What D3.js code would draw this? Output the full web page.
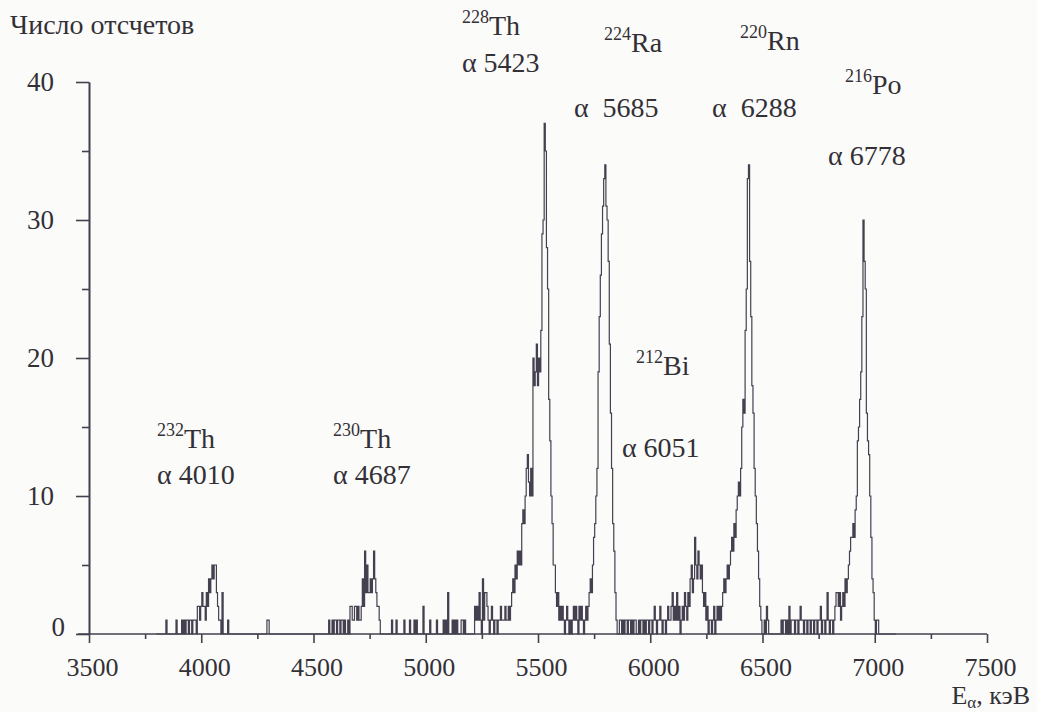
<!DOCTYPE html>
<html>
<head>
<meta charset="utf-8">
<script src="https://cdn.jsdelivr.net/npm/d3@7"></script>
<style>
    body { margin: 0; background: #fbfbfa; }
    svg text { font-family: 'Liberation Serif', 'Noto Serif', 'DejaVu Serif', 'Times New Roman', Times, serif; fill: #333036; }
</style>
</head>
<body>
<div id="visualization"></div>
<script>
// spectrum: counts per 5 keV channel, first channel at 3800 keV, one row = 100 keV
var channelStart = 3800
var channelWidth = 5
var counts = [
    0,0,0,0,0,0,0,0,0,1, 0,0,0,0,0,0,0,0,1,0,        // 3800
    0,0,0,1,0,1,0,1,1,0, 1,1,0,1,1,1,0,2,2,1,        // 3900
    2,3,2,2,1,3,2,4,3,4, 5,4,5,5,3,2,1,1,0,3,        // 4000
    0,0,0,0,1,0,0,0,0,0, 0,0,0,0,0,0,0,0,0,0,        // 4100
    0,0,0,0,0,0,0,0,0,0, 0,0,0,0,0,0,0,0,0,1,        // 4200
    1,0,0,0,0,0,0,0,0,0, 0,0,0,0,0,0,0,0,0,0,        // 4300
    0,0,0,0,0,0,0,0,0,0, 0,0,0,0,0,0,0,0,0,0,        // 4400
    0,0,0,0,0,0,0,0,0,0, 0,0,0,0,1,0,0,1,0,1,        // 4500
    1,0,1,1,0,1,1,0,1,0, 0,1,0,2,2,1,1,2,2,1,        // 4600
    2,1,1,2,4,2,6,3,5,3, 3,4,3,4,6,4,3,2,2,1,        // 4700
    0,0,0,0,0,0,0,0,0,0, 1,0,0,0,1,0,0,0,0,0,        // 4800
    0,1,0,0,0,0,1,0,0,0, 1,0,1,0,0,0,0,0,2,0,        // 4900
    0,0,0,0,1,0,0,0,0,0, 1,0,0,0,0,0,1,0,1,0,        // 5000
    3,0,0,0,1,0,1,0,1,0, 0,0,1,1,0,1,0,0,0,0,        // 5100
    0,0,0,0,2,1,2,1,3,1, 0,4,1,3,3,2,1,0,1,2,        // 5200
    1,0,1,1,0,1,1,2,1,1, 1,2,1,1,2,1,2,3,4,3,        // 5300
    5,4,6,5,6,5,8,9,8,10, 12,13,11,10,12,10,20,18,19,21,     // 5400
    18,20,19,22,29,30,37,35,28,25, 17,14,10,8,5,5,3,2,3,1,   // 5500
    2,1,2,1,0,1,2,1,0,1, 0,1,2,1,2,1,0,2,1,2,        // 5600
    1,0,1,2,1,2,3,4,3,5, 7,8,10,12,19,23,26,29,31,33,        // 5700
    34,31,30,27,21,16,12,8,6,3, 1,0,0,1,1,0,1,0,1,1,         // 5800
    0,1,1,0,1,0,1,1,0,0, 1,0,1,1,0,1,0,1,1,0,        // 5900
    1,1,0,1,2,1,0,1,1,2, 1,0,1,1,0,1,2,1,1,2,        // 6000
    3,1,2,1,3,1,2,0,1,2, 1,3,2,1,3,2,4,5,3,4,        // 6100
    7,5,4,6,5,4,5,3,2,3, 1,2,0,1,1,0,1,2,0,1,        // 6200
    2,1,2,1,2,3,4,3,4,5, 4,5,6,7,6,8,7,9,10,11,      // 6300
    10,12,15,17,16,22,25,33,34,27, 23,18,16,12,10,8,6,4,2,1, // 6400
    0,0,1,0,2,1,0,0,0,0, 0,0,0,0,0,0,0,1,0,1,        // 6500
    1,0,1,0,2,0,1,1,1,0, 1,1,0,1,2,1,1,0,1,1,        // 6600
    0,1,1,0,1,1,0,1,1,0, 1,1,2,0,1,1,0,1,3,1,        // 6700
    0,1,1,0,1,2,3,3,2,3, 1,2,3,2,4,3,4,5,6,7,        // 6800
    7,8,7,9,10,14,15,17,19,23, 30,27,25,16,14,13,10,7,4,3,   // 6900
    1,0,1,1,0,0,0,0,0,0, 0,0,0,0,0,0,0,0,0,0         // 7000
]

// axis ticks
var xMajorTicks = [3500, 4000, 4500, 5000, 5500, 6000, 6500, 7000, 7500]
var xMinorTicks = [3750, 4250, 4750, 5250, 5750, 6250, 6750, 7250]
var yMajorTicks = [0, 10, 20, 30, 40]
var yMinorTicks = [5, 15, 25, 35]

// peak annotations
var labelMass = ['232', '230', '228', '224', '212', '220', '216']
var labelElement = ['Th', 'Th', 'Th', 'Ra', 'Bi', 'Rn', 'Po']
var labelAlpha = ['4010', '4687', '5423', '5685', '6051', '6288', '6778']
// where the annotations sit, in keV / counts
var nameAt = [[3803, 13.5], [4587, 13.5], [5161, 43.4], [5794, 42.2], [5937, 18.8], [6400, 42.3], [6867, 39.1]]
var alphaAt = [[3803, 10.9], [4587, 10.9], [5161, 40.7], [5660, 37.5], [5874, 12.8], [6275, 37.5], [6792, 34.0]]
var alphaGap = ['\u00a0', '\u00a0', '\u00a0', '\u00a0\u00a0', '\u00a0', '\u00a0\u00a0', '\u00a0']

var width = 1037
var height = 712
var ink = '#45404f'
var serif = "'Liberation Serif', 'Noto Serif', 'DejaVu Serif', 'Times New Roman', Times, serif"

var x = d3.scaleLinear().domain([3500, 7500]).range([89, 987])
var y = d3.scaleLinear().domain([0, 40]).range([634, 82])

var svg = d3.select('#visualization')
    .append('svg')
    .attr('width', width)
    .attr('height', height)
    .attr('font-family', serif)

// spectrum channels, drawn as a step histogram
var points = counts.map((c, i) => ({ e: channelStart + i * channelWidth, c: c }))

var line = d3.line()
    .x(d => x(d.e))
    .y(d => y(d.c))
    .curve(d3.curveStep)

svg.append('path')
    .attr('d', line(points))
    .attr('fill', 'none')
    .attr('stroke', ink)
    .attr('stroke-width', 1.2)

// x axis: base line starts a little left of the y axis
svg.append('line')
    .attr('x1', x(3450)).attr('x2', x(7500))
    .attr('y1', y(0)).attr('y2', y(0))
    .attr('stroke', ink)
    .attr('stroke-width', 1.6)

var xMajor = svg.append('g')
    .attr('transform', `translate(0,${y(0)})`)
    .call(d3.axisBottom(x).tickValues(xMajorTicks).tickSize(9).tickSizeOuter(0).tickPadding(15).tickFormat(d3.format('d')))
var xMinor = svg.append('g')
    .attr('transform', `translate(0,${y(0)})`)
    .call(d3.axisBottom(x).tickValues(xMinorTicks).tickSize(5).tickSizeOuter(0).tickFormat(''))

var yMajor = svg.append('g')
    .attr('transform', `translate(${x(3500)},0)`)
    .call(d3.axisLeft(y).tickValues(yMajorTicks).tickSize(13).tickSizeOuter(0).tickFormat(d3.format('d')))
var yMinor = svg.append('g')
    .attr('transform', `translate(${x(3500)},0)`)
    .call(d3.axisLeft(y).tickValues(yMinorTicks).tickSize(7).tickSizeOuter(0).tickFormat(''))

;[xMajor, xMinor, yMajor, yMinor].forEach(g => {
    g.attr('font-family', serif)
    g.selectAll('.domain').attr('stroke', ink).attr('stroke-width', 1.6)
    g.selectAll('.tick line').attr('stroke', ink).attr('stroke-width', 1.6)
})
xMinor.select('.domain').remove()
xMajor.select('.domain').remove()

xMajor.selectAll('.tick text')
    .attr('font-size', 26)
    .attr('fill', '#333036')
    .attr('dx', 3)

// the zero label sits closer to the axis than the others
yMajor.selectAll('.tick text')
    .attr('font-size', 27)
    .attr('fill', '#333036')
    .attr('x', d => d === 0 ? -24 : -35)
    .attr('dy', d => d === 0 ? '0.05em' : '0.32em')

// axis titles
svg.append('text')
    .attr('x', 10)
    .attr('y', 34)
    .attr('font-size', 28)
    .text('Число отсчетов')

var xTitle = svg.append('text')
    .attr('x', 1030)
    .attr('y', 704)
    .attr('text-anchor', 'end')
    .attr('font-size', 26)
xTitle.append('tspan').text('E')
xTitle.append('tspan').attr('font-size', 17).attr('dy', 4).text('α')
xTitle.append('tspan').attr('dy', -4).text(', кэВ')

// peak labels
labelMass.forEach((m, i) => {
    var name = svg.append('text')
        .attr('x', x(nameAt[i][0]))
        .attr('y', y(nameAt[i][1]))
        .attr('font-size', 28)
    name.append('tspan').attr('font-size', 18).attr('dy', -12).text(m)
    name.append('tspan').attr('dy', 12).text(labelElement[i])

    svg.append('text')
        .attr('x', x(alphaAt[i][0]))
        .attr('y', y(alphaAt[i][1]))
        .attr('font-size', 28)
        .text('α' + alphaGap[i] + labelAlpha[i])
})
</script>
</body>
</html>
